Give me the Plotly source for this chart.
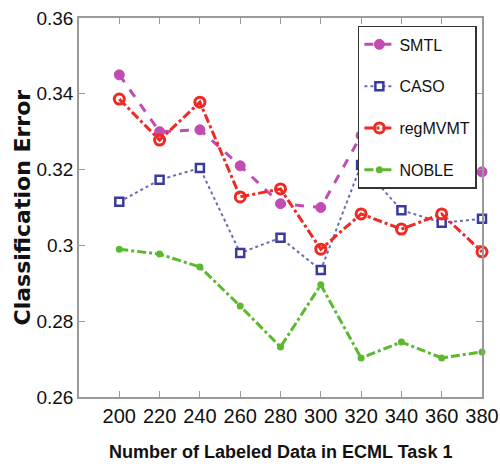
import plotly.graph_objects as go

# Number of labeled samples on the x axis
labeled = [200, 220, 240, 260, 280, 300, 320, 340, 360, 380]

# Classification error per method
smtl = [0.345, 0.330, 0.3305, 0.321, 0.311, 0.310, 0.329, 0.326, 0.322, 0.3194]
caso = [0.3115, 0.3173, 0.3204, 0.298, 0.302, 0.2935, 0.3212, 0.3093, 0.306, 0.307]
regmvmt = [0.3386, 0.3278, 0.3378, 0.3128, 0.3149, 0.299, 0.3083, 0.3043, 0.3083, 0.2983]
noble = [0.299, 0.2977, 0.2943, 0.284, 0.2732, 0.2896, 0.2703, 0.2745, 0.2703, 0.2719]

y_ticks = [0.26, 0.28, 0.30, 0.32, 0.34, 0.36]
y_tick_text = ["0.26", "0.28", "0.3", "0.32", "0.34", "0.36"]

SANS = "Liberation Sans, Arial, sans-serif"
INK = "#111111"

fig = go.Figure()

fig.add_trace(go.Scatter(
    x=labeled, y=smtl, name="SMTL", mode="lines+markers", legendgroup="a",
    line=dict(color="#c24bb4", width=3, dash="dash"),
    marker=dict(symbol="circle", size=10, color="#c24bb4",
                line=dict(color="#c24bb4", width=1)),
    cliponaxis=False,
))
fig.add_trace(go.Scatter(
    x=labeled, y=caso, name="CASO", mode="lines+markers", legendgroup="b",
    line=dict(color="#6a6ab8", width=2, dash="dot"),
    marker=dict(symbol="square", size=8, color="#ffffff",
                line=dict(color="#3b3b9a", width=2.5)),
    cliponaxis=False,
))
fig.add_trace(go.Scatter(
    x=labeled, y=regmvmt, name="regMVMT", mode="lines+markers", legendgroup="c",
    line=dict(color="#ee2a24", width=3, dash="dashdot"),
    marker=dict(symbol="circle-open", size=10, color="#ee2a24",
                line=dict(color="#ee2a24", width=3)),
    cliponaxis=False,
))
fig.add_trace(go.Scatter(
    x=labeled, y=noble, name="NOBLE", mode="lines+markers", legendgroup="d",
    line=dict(color="#5cb82e", width=3, dash="dashdot"),
    marker=dict(symbol="circle", size=7, color="#5cb82e"),
    cliponaxis=False,
))

axis_common = dict(
    showline=True, linecolor="#9a9a9a", linewidth=1.5, mirror="ticks",
    ticks="inside", ticklen=6, tickwidth=1, tickcolor="#9a9a9a",
    showgrid=False, zeroline=False, automargin=False,
)

fig.update_xaxes(
    range=[180, 380], tickvals=labeled, ticktext=[str(v) for v in labeled],
    tickfont=dict(family=SANS, size=20, color=INK),
    **axis_common,
)
fig.update_yaxes(
    range=[0.26, 0.36], tickvals=y_ticks, ticktext=y_tick_text,
    tickfont=dict(family=SANS, size=19, color=INK),
    **axis_common,
)

# Axis titles placed as annotations so the plot area keeps fixed margins
fig.add_annotation(
    text="<b>Number of Labeled Data in ECML Task 1</b>",
    xref="paper", yref="paper", x=0.5, y=0, yshift=-55,
    xanchor="center", yanchor="middle", showarrow=False,
    font=dict(family=SANS, size=18, color=INK),
)
fig.add_annotation(
    text="<b>Classification Error</b>",
    xref="paper", yref="paper", x=0, y=0.5, xshift=-57,
    xanchor="center", yanchor="middle", textangle=-90, showarrow=False,
    font=dict(family="DejaVu Sans", size=22, color=INK),
)

fig.update_layout(
    width=500, height=468,
    margin=dict(l=79, r=18, t=18, b=71),
    paper_bgcolor="white", plot_bgcolor="white",
    legend=dict(
        x=0.692, y=0.979, xanchor="left", yanchor="top",
        bgcolor="white", bordercolor="#333333", borderwidth=1.5,
        font=dict(family=SANS, size=16, color=INK),
        tracegroupgap=18, itemwidth=30,
    ),
)

fig.write_html("out.html")
